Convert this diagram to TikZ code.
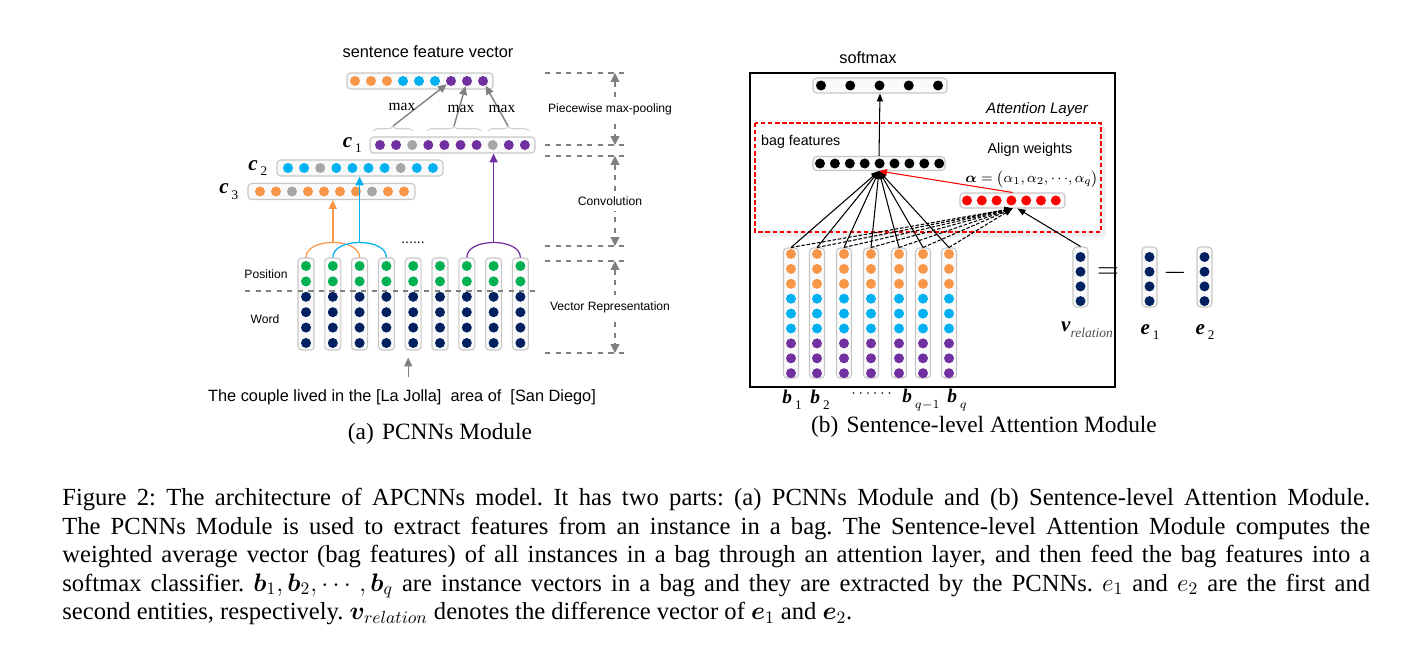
\documentclass[tikz,border=0pt]{standalone}
\usepackage{fontspec}
\setmainfont{Liberation Serif}
\setsansfont{Liberation Sans}
\usepackage{amsmath}
\usepackage{bm}
\usepackage{tikz}
\usetikzlibrary{positioning, arrows.meta, decorations.pathreplacing, calc}
\definecolor{PCOrange}{RGB}{247,150,70}
\definecolor{PCBlue}{RGB}{0,176,240}
\definecolor{PCPurple}{RGB}{112,48,160}
\definecolor{PCGreen}{RGB}{0,176,80}
\definecolor{PCNavy}{RGB}{0,32,96}
\definecolor{PCGray}{RGB}{166,166,166}
\definecolor{PCArrow}{RGB}{128,128,128}
\definecolor{PCRed}{RGB}{255,0,0}
\newcommand{\veclab}[3][12]{{\fontsize{#1}{#1}\selectfont\bfseries\itshape #2}\,\raisebox{-0.7ex}{\fontsize{7.5}{7.5}\selectfont #3}}

\begin{document}
\frenchspacing
\begin{tikzpicture}[x=0.02cm, y=-0.02cm,
    vec/.style={rectangle, rounded corners=2pt, draw=gray!45, fill=gray!4,
                line width=0.6pt, inner sep=0pt},
    ball/.style={circle, inner sep=0pt, minimum size=0.2cm},
    sans/.style={font=\sffamily\fontsize{9.3}{11}\selectfont},
    tag/.style={font=\sffamily\fontsize{6.9}{8}\selectfont, text=black},
    garr/.style={-{Triangle[length=5pt, width=4.5pt]}, PCArrow, line width=0.8pt},
    carr/.style={-{Triangle[length=5pt, width=4.5pt]}, line width=0.8pt},
    level/.style={PCArrow, dashed, line width=0.6pt},
    larr/.style={{Triangle[length=5pt, width=5pt]}-{Triangle[length=5pt, width=5pt]},
                 PCArrow, dashed, line width=0.6pt},
    barr/.style={-{Triangle[length=4.5pt, width=3.5pt]}, line width=0.6pt},
    bdash/.style={barr, dash pattern=on 2pt off 1pt}
  ]
\useasboundingbox (0,0) rectangle (1406,648);

% (a) PCNNs Module
\node[sans] (sfvtitle) at (428,52) {sentence feature vector};
\node[vec, minimum width=2.92cm, minimum height=0.32cm] (sfv) at (420,81) {};
\foreach \col [count=\i] in {PCOrange,PCOrange,PCOrange,PCBlue,PCBlue,PCBlue,PCPurple,PCPurple,PCPurple}
  \node[ball, fill=\col] (sfv\i) at ({339+16*\i},81) {};

% convolution outputs
\node[vec, minimum width=3.3cm, minimum height=0.32cm] (c1) at (452.5,145) {};
\foreach \col [count=\i] in {PCPurple,PCPurple,PCGray,PCPurple,PCPurple,PCPurple,PCPurple,PCGray,PCPurple,PCPurple}
  \node[ball, fill=\col] (c1-\i) at ({363.9+16.1*\i},145) {};
\node[vec, minimum width=3.32cm, minimum height=0.32cm] (c2) at (360,168) {};
\foreach \col [count=\i] in {PCBlue,PCBlue,PCGray,PCBlue,PCBlue,PCBlue,PCBlue,PCGray,PCBlue,PCBlue}
  \node[ball, fill=\col] (c2-\i) at ({271.9+16.1*\i},168) {};
\node[vec, minimum width=3.34cm, minimum height=0.32cm] (c3) at (331.5,191.5) {};
\foreach \col [count=\i] in {PCOrange,PCOrange,PCGray,PCOrange,PCOrange,PCOrange,PCOrange,PCGray,PCOrange,PCOrange}
  \node[ball, fill=\col] (c3-\i) at ({244+16*\i},191.5) {};
\node[left=0.15cm of c1, inner sep=0pt] (c1lab) {\veclab{c}{1}};
\node[left=0.18cm of c2, inner sep=0pt] (c2lab) {\veclab{c}{2}};
\node[left=0.18cm of c3, inner sep=0pt] (c3lab) {\veclab{c}{3}};

% piecewise max-pooling
\draw[decorate, decoration={brace, amplitude=0.09cm}, gray!35, line width=0.6pt] (373,131) -- (413,131);
\draw[decorate, decoration={brace, amplitude=0.09cm}, gray!35, line width=0.6pt] (427,131) -- (481,131);
\draw[decorate, decoration={brace, amplitude=0.09cm}, gray!35, line width=0.6pt] (488,131) -- (529,131);
\coordinate (br1) at (393,126);
\coordinate (br2) at (454,126);
\coordinate (br3) at (508,126);
\draw[garr] (br1) -- (sfv7);
\draw[garr] (br2) -- (sfv8);
\draw[garr] (br3) -- (sfv9);
\node[font=\fontsize{8.8}{10}\selectfont] (max1) at (402,107) {max};
\node[font=\fontsize{8.8}{10}\selectfont] (max2) at (461,109) {max};
\node[font=\fontsize{8.8}{10}\selectfont] (max3) at (502,109) {max};

% word and position embeddings
\foreach \i in {1,...,9} {
  \node[vec, minimum width=0.32cm, minimum height=1.84cm] (w\i) at ({279.2+26.8*\i},304) {};
  \foreach \j in {1,2}
    \node[ball, fill=PCGreen] (w\i-\j) at ({279.2+26.8*\i},{250.6+15.4*\j}) {};
  \foreach \j in {3,...,6}
    \node[ball, fill=PCNavy] (w\i-\j) at ({279.2+26.8*\i},{250.6+15.4*\j}) {};
}
\draw[level] (245,291) -- (537,291);
\node[tag] (poslab) at (266,274) {Position};
\node[tag] (wordlab) at (265,319) {Word};
\node[font=\sffamily\fontsize{8}{8}\selectfont] (wdots) at (413,243) {......};

\draw[PCOrange, line width=0.7pt] (w1.north) .. controls +(0,-20) and +(0,-20) .. (w3.north) coordinate[pos=0.5] (oarc);
\draw[PCBlue, line width=0.7pt] (w2.north) .. controls +(0,-20) and +(0,-20) .. (w4.north) coordinate[pos=0.5] (barc);
\draw[PCPurple, line width=0.7pt] (w7.north) .. controls +(0,-20) and +(0,-20) .. (w9.north) coordinate[pos=0.5] (parc);
\draw[carr, PCOrange] (oarc) -- (oarc |- c3.south);
\draw[carr, PCBlue] (barc) -- (barc |- c2.south);
\draw[carr, PCPurple] (parc) -- (parc |- c1.south);

\node[sans] (sent) at (402,397) {The couple lived in the [La Jolla]~ area of~ [San Diego]};
\draw[garr, shorten <=0.12cm, shorten >=0.14cm] ($(w5.south |- sent.north)+(-5,0)$) -- ($(w5.south)+(-5,0)$);

% layer marks
\foreach \y [count=\k] in {73,145,156,246,261,353} {
  \draw[level] (545,\y) -- (628,\y);
  \coordinate (lv\k) at (615,\y);
}
\draw[larr] (lv1) -- (lv2) node[midway, fill=white, tag, xshift=-0.1cm] (pool) {Piecewise max-pooling};
\draw[larr] (lv3) -- (lv4) node[midway, fill=white, tag, xshift=-0.1cm] (conv) {Convolution};
\draw[larr] (lv5) -- (lv6) node[midway, fill=white, tag, xshift=-0.1cm] (vrep) {Vector Representation};

\node[font=\fontsize{13.3}{16}\selectfont] (capa) at (440,434) {(a)\hspace{0.35em}PCNNs Module};

% (b) Sentence-level Attention Module
\node[sans] (softtitle) at (868,58) {softmax};
\fill[gray!12] (759,127) rectangle (1106,237);
\fill[white] (757,125) rectangle (1099,230);
\draw[PCRed, dash pattern=on 2.5pt off 1.5pt, line width=0.7pt] (755,123) rectangle (1101,232);

\node[vec, minimum width=2.68cm, minimum height=0.3cm] (soft) at (880,85.5) {};
\foreach \i in {1,...,5}
  \node[ball, fill=black] (soft\i) at ({791.75+29.25*\i},85.5) {};
\node[font=\sffamily\itshape\fontsize{8.6}{10}\selectfont] (attn) at (1037,110) {Attention Layer};
\node[font=\sffamily\fontsize{8.1}{10}\selectfont, anchor=west] (bagtitle) at (755,142) {bag features};
\node[vec, minimum width=2.64cm, minimum height=0.28cm] (bag) at (879,163.5) {};
\foreach \i in {1,...,9}
  \node[ball, fill=black] (bag\i) at ({805.1+14.9*\i},163.5) {};
\node[font=\sffamily\fontsize{8.2}{10}\selectfont, inner sep=1pt] (aligntitle) at (1030,150) {Align weights};
\node[font=\fontsize{8.5}{10}\selectfont, inner sep=1pt] (alpha) at (1032,179) {$\bm{\alpha}=\bigl(\alpha_1,\alpha_2,\cdots\!,\alpha_q\bigr)$};
\node[vec, minimum width=2.1cm, minimum height=0.3cm] (wts) at (1012.5,200.5) {};
\foreach \i in {1,...,7}
  \node[ball, fill=PCRed] (wts\i) at ({952.2+14.8*\i},200.5) {};

% instance vectors
\foreach \x [count=\i] in {791,817,844,871,899,923,949} {
  \node[vec, minimum width=0.3cm, minimum height=2.6cm] (b\i) at (\x,313) {};
  \foreach \col [count=\j] in {PCOrange,PCOrange,PCOrange,PCBlue,PCBlue,PCBlue,PCPurple,PCPurple,PCPurple}
    \node[ball, fill=\col] (b\i-\j) at (\x,{239.1+14.9*\j}) {};
}
\foreach \i in {1,...,7} {
  \draw[bdash] (b\i.north) -- (wts.south);
  \draw[barr] (b\i.north) -- (bag.south);
}
\draw[barr, PCRed] (wts.north) -- (bag.south);
\draw[barr] (bag.north) -- (soft.south);

% relation vector
\node[vec, minimum width=0.3cm, minimum height=1.2cm] (vrel) at (1080.5,277) {};
\node[vec, minimum width=0.3cm, minimum height=1.2cm] (e1) at (1149.5,277) {};
\node[vec, minimum width=0.3cm, minimum height=1.2cm] (e2) at (1204.5,277) {};
\foreach \j in {1,...,4} {
  \node[ball, fill=PCNavy] (vrel-\j) at (1080.5,{242.3+14.7*\j}) {};
  \node[ball, fill=PCNavy] (e1-\j) at (1149.5,{242.3+14.7*\j}) {};
  \node[ball, fill=PCNavy] (e2-\j) at (1204.5,{242.3+14.7*\j}) {};
}
\draw[barr] (vrel.north) -- ($(wts.south)+(5,0)$);
\node[font=\fontsize{16}{16}\selectfont] (eqs) at (1108,273) {$=$};
\node[font=\fontsize{16}{16}\selectfont] (minus) at (1175,273) {$-$};
\node (vrellab) at (1087,330) {{\fontsize{12}{12}\selectfont\bfseries\itshape v}\raisebox{-0.8ex}{\fontsize{7.7}{8}\selectfont\itshape\color{black!70}relation}};
\node (e1lab) at (1150,332) {\veclab{e}{1}};
\node (e2lab) at (1205,332) {\veclab{e}{2}};

\node (b1lab) at (792,400) {\veclab[11]{b}{1}};
\node (b2lab) at (820,400) {\veclab[11]{b}{2}};
\node[font=\fontsize{9}{10}\selectfont] (bdots) at (873,394) {$\cdots\cdots$};
\node (bq1lab) at (921,400) {\veclab[11]{b}{$q{-}1$}};
\node (bqlab) at (957,400) {\veclab[11]{b}{$q$}};

% frame round the module
\draw[line width=1.2pt] (750,73) rectangle (1115,387);

\node[font=\fontsize{13.3}{16}\selectfont] (capb) at (984,427) {(b)\hspace{0.35em}Sentence-level Attention Module};

% figure caption
\node[anchor=north west, text width=26.16cm, align=justify, inner sep=0pt,
      font=\fontsize{14}{16.2}\selectfont] (caption) at (62,488)
  {Figure 2: The architecture of APCNNs model. It has two parts: (a) PCNNs Module and (b) Sentence-level Attention Module.\linebreak
   The PCNNs Module is used to extract features from an instance in a bag. The Sentence-level Attention Module computes the\linebreak
   weighted average vector (bag features) of all instances in a bag through an attention layer, and then feed the bag features into a\linebreak
   softmax classifier. $\bm{b}_1,\bm{b}_2,\cdots,\bm{b}_q$ are instance vectors in a bag and they are extracted by the PCNNs. $e_1$ and $e_2$ are the first and\linebreak
   second entities, respectively. $\bm{v}_{relation}$ denotes the difference vector of $\bm{e}_1$ and $\bm{e}_2$.};
\end{tikzpicture}
\end{document}
